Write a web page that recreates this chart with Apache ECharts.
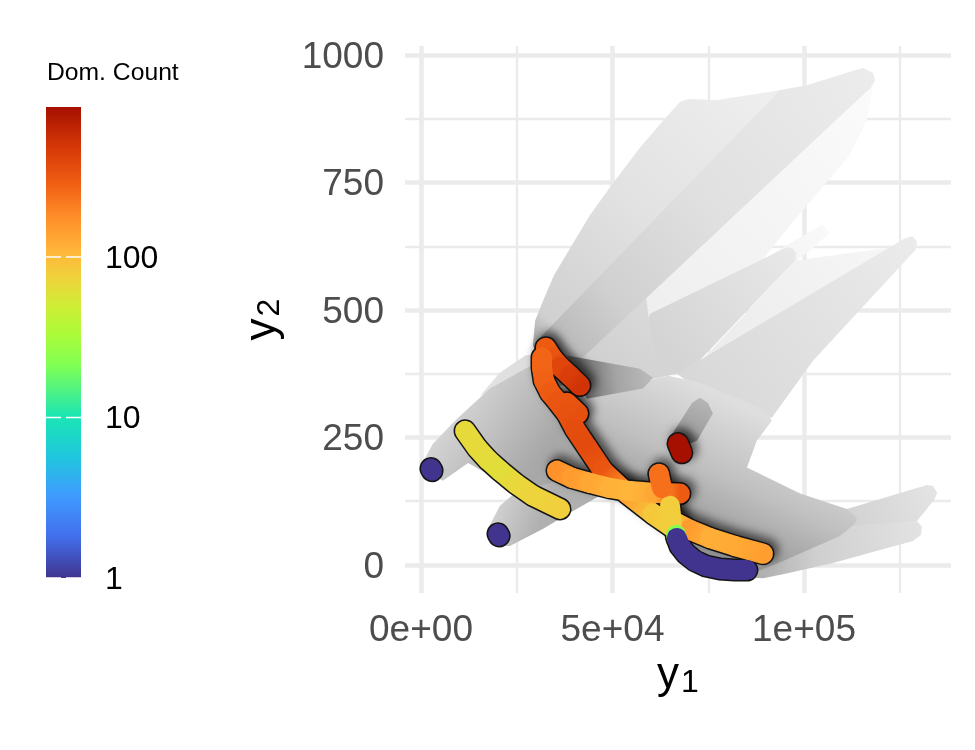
<!DOCTYPE html>
<html>
<head>
<meta charset="utf-8">
<style>html,body{margin:0;background:#fff}#chart{width:975px;height:750px}</style>
<script src="https://cdn.jsdelivr.net/npm/echarts@6/dist/echarts.min.js"></script>
</head>
<body>
<div id="chart"></div>
<script>
// axes
const y1Min = -4178, y1Max = 138380, y1Step = 50000
const y2Min = -55, y2Max = 1018, y2Step = 250
const y1TickLabels = { 0: '0e+00', 50000: '5e+04', 100000: '1e+05' }
const countMax = 860
const countTicks = [1, 10, 100]

// grey shapes, [y1, y2]
const brightFan = [[58700,534],[118000,941],[116400,872],[112000,804],[96300,666],[91100,617],[72800,440],[60000,420]]
const brightRay = [[91100,607],[104700,668],[106800,652],[101600,617],[96300,588]]
const brightWedge = [[97700,597],[123200,623],[126900,637],[79900,391],[70200,377]]
const fanTop = [[29200,430],[29800,479],[31900,519],[34700,568],[38100,611],[44100,686],[50100,749],[57200,819],[63700,876],[67600,908],[69700,914],[77300,912],[93700,931],[100800,941],[115400,975],[118000,965],[118500,951],[117500,937],[58700,534],[59800,460],[61800,400],[64500,371],[52000,352],[36300,352]]
const fanBand = [[93700,931],[100800,941],[115400,975],[118000,965],[118500,951],[117500,937],[42000,405],[34200,411],[31100,446]]
const fanMid = [[59800,493],[95600,623],[97000,621],[98000,611],[97700,597],[70200,381],[64500,371],[56000,400]]
const fanRight = [[66800,375],[126400,641],[128300,645],[129500,635],[129200,619],[102400,401],[91600,289],[72800,342]]
const fanLow1 = [[111200,110],[132100,157],[133700,155],[134800,141],[134000,128],[129500,86],[109400,57]]
const fanLow2 = [[129500,86],[130800,75],[130500,59],[128500,47],[117200,24],[107600,4],[94500,-18],[89300,-26],[84600,-24],[83300,-12],[94500,18],[112000,77]]
const blob = [[64500,371],[72800,358],[90300,303],[91600,283],[87700,244],[85100,191],[99000,140],[111200,110],[113800,92],[113300,81],[109400,57],[94500,8],[84600,-22],[72800,-2],[66000,60],[60600,100],[53800,140],[47500,185],[43300,232],[38100,297],[36300,322]]
const fanEdge = [[15400,332],[20600,377],[27200,411],[32400,417],[33700,381],[27200,371]]
const fanLeft = [[-300,191],[3100,238],[9400,287],[18000,346],[27200,385],[31600,401],[32100,362],[33700,338],[38100,297],[43300,232],[47500,185],[53800,140],[36300,126],[20600,165],[12300,200],[5700,165]]
const fanBlue = [[17500,71],[20600,116],[25100,145],[36300,165],[46700,136],[39700,106],[31900,71],[23200,37],[20100,37]]
const ribbonA = [[38100,411],[57200,385],[60600,367],[58000,346],[43300,326]]
const ribbonB = [[65000,250],[70800,318],[72800,328],[74900,318],[76200,297],[72100,244],[68900,234]]

// coloured paths, [y1, y2, dominated count]
const pathYellow = [[11500,263,66],[14600,230,66],[17500,206,64],[20600,185,62],[24800,159,68],[29200,136,72],[36300,110,78]]
const pathUpper = [[32600,426,300],[34200,407,330],[36300,389,400],[38900,371,450],[41500,352,520]]
const pathLong = [[31600,407,270],[31600,387,270],[32100,362,280],[33700,338,300],[35500,322,320],[38100,297,340],[40200,267,360],[43300,232,370],[47500,185,320],[53800,140,150],[60600,100,85],[65800,73,72]]
const pathBump = [[38100,318,330],[41000,297,350]]
const pathCross = [[35500,185,170],[39400,171,150],[44100,161,130],[49300,151,115],[54500,145,110],[61100,141,130],[67600,140,300]]
const pathStub = [[62100,179,240],[62900,151,240]]
const pathUp = [[65000,116,80],[65500,81,80]]
const pathLower = [[65800,86,95],[70200,69,150],[75400,53,120],[82000,37,125],[89300,22,145]]
const pathFringe = [[66600,59,22],[66800,53,22]]
const pathBlue = [[66800,53,1],[67600,37,1],[69200,22,1],[71500,8,1],[74400,-2,1],[78100,-8,1],[82000,-10,1],[85100,-10,1]]
const dotLeft = [[2600,189,1],[2900,185,1]]
const dotMid = [[20100,61,1],[20400,57,1]]
const dotRed = [[67100,238,860],[68100,220,860]]

const paths = [pathYellow, dotLeft, dotMid, pathUpper, pathBump, pathLong, pathCross, pathStub, pathLower, pathUp, pathFringe, pathBlue, dotRed]
// these sit mostly on white and throw no dark halo
const quietPaths = [dotLeft, dotMid, pathYellow, pathBlue, pathFringe]

// colour bar stops, position on the log scale / colour
const barStops = [[0,'#40348f'],[0.09,'#4270ee'],[0.175,'#3f9bff'],[0.26,'#1fc8dc'],[0.342,'#1be5b5'],[0.45,'#7fff55'],[0.517,'#abfb38'],[0.576,'#cdee35'],[0.636,'#efd33c'],[0.695,'#ffb53a'],[0.77,'#ff8c28'],[0.836,'#f05f14'],[0.91,'#d83a08'],[1,'#a51000']]

// grey layers, back to front: shape, gradient start and end [y1,y2], grey stops
const layers = [
  [brightFan, [58700,534], [118000,941], [[0,'#efefef'],[1,'#fbfbfb']]],
  [brightRay, [91100,607], [106800,652], [[0,'#f4f4f4'],[1,'#f9f9f9']]],
  [brightWedge, [78100,401], [126900,637], [[0,'#ececec'],[1,'#f7f7f7']]],
  [fanMid, [64000,420], [97000,610], [[0,'#d4d4d4'],[1,'#e8e8e8']]],
  [fanRight, [72800,342], [128500,640], [[0,'#d8d8d8'],[1,'#ebebeb']]],
  [fanTop, [32000,420], [90000,920], [[0,'#aaaaaa'],[0.08,'#d0d0d0'],[0.5,'#e2e2e2'],[1,'#eeeeee']]],
  [fanBand, [33000,420], [118000,960], [[0,'#808080'],[0.05,'#bbbbbb'],[0.2,'#d0d0d0'],[0.5,'#e0e0e0'],[1,'#ececec']]],
  [fanLow1, [109400,80], [134500,150], [[0,'#d0d0d0'],[1,'#e4e4e4']]],
  [fanLow2, [85000,-10], [130000,65], [[0,'#a8a8a8'],[0.4,'#cfcfcf'],[1,'#e2e2e2']]],
  [blob, [68000,60], [84000,310], [[0,'#959595'],[0.5,'#c0c0c0'],[1,'#dedede']]],
  [fanEdge, [15400,332], [33700,381], [[0,'#e2e2e2'],[1,'#dcdcdc']]],
  [fanLeft, [30000,200], [5000,330], [[0,'#a8a8a8'],[0.6,'#c8c8c8'],[1,'#dddddd']]],
  [fanBlue, [32000,100], [20000,130], [[0,'#b0b0b0'],[1,'#d2d2d2']]],
  [ribbonA, [42000,355], [60000,370], [[0,'#6a6a6a'],[0.5,'#a4a4a4'],[1,'#bbbbbb']]],
  [ribbonB, [68000,235], [73500,320], [[0,'#5a5a5a'],[0.4,'#a0a0a0'],[1,'#b4b4b4']]]
]

function mix(a, b, t) {
  const pa = parseInt(a.slice(1), 16), pb = parseInt(b.slice(1), 16)
  const c = [16, 8, 0].map(function (s) {
    const va = (pa >> s) & 255, vb = (pb >> s) & 255
    return Math.round(va + (vb - va) * t)
  })
  return 'rgb(' + c.join(',') + ')'
}

// colour of a count on the same scale as the bar
function countColor(count) {
  const p = Math.log10(count) / Math.log10(countMax)
  for (let i = 1; i < barStops.length; i++) {
    if (p <= barStops[i][0]) {
      const t = (p - barStops[i - 1][0]) / (barStops[i][0] - barStops[i - 1][0])
      return mix(barStops[i - 1][1], barStops[i][1], t)
    }
  }
  return barStops[barStops.length - 1][1]
}

function renderLayer(params, api) {
  const l = layers[params.dataIndex]
  const a = api.coord(l[1]), b = api.coord(l[2])
  const stops = l[3].map(function (s) { return { offset: s[0], color: s[1] } })
  return {
    type: 'polygon',
    shape: { points: l[0].map(function (p) { return api.coord(p) }) },
    style: { fill: new echarts.graphic.LinearGradient(a[0], a[1], b[0], b[1], stops, true) }
  }
}

function renderOutline(params, api) {
  const path = paths[params.dataIndex]
  const style = { fill: null, stroke: '#141414', lineWidth: 23, lineCap: 'round', lineJoin: 'round' }
  if (quietPaths.indexOf(path) < 0) {
    style.shadowBlur = 10
    style.shadowOffsetX = 4
    style.shadowOffsetY = -4
    style.shadowColor = 'rgba(0,0,0,0.6)'
  }
  return {
    type: 'polyline',
    shape: { points: path.map(function (p) { return api.coord(p) }) },
    style: style
  }
}

function renderPath(params, api) {
  const path = paths[params.dataIndex]
  const children = []
  for (let i = 1; i < path.length; i++) {
    const a = api.coord(path[i - 1]), b = api.coord(path[i])
    children.push({
      type: 'line',
      shape: { x1: a[0], y1: a[1], x2: b[0], y2: b[1] },
      style: {
        lineWidth: 20,
        lineCap: 'round',
        stroke: new echarts.graphic.LinearGradient(a[0], a[1], b[0], b[1], [
          { offset: 0, color: countColor(path[i - 1][2]) },
          { offset: 1, color: countColor(path[i][2]) }
        ], true)
      }
    })
  }
  return { type: 'group', children: children }
}

function renderBar(params, api) {
  const top = api.coord([0, countMax]), bottom = api.coord([1, 1])
  const stops = barStops.map(function (s) { return { offset: s[0], color: s[1] } })
  const children = [{
    type: 'rect',
    shape: { x: top[0], y: top[1], width: bottom[0] - top[0], height: bottom[1] - top[1] },
    style: { fill: new echarts.graphic.LinearGradient(0, bottom[1], 0, top[1], stops, true) }
  }]
  countTicks.forEach(function (c) {
    const y = api.coord([0, c])[1]
    children.push({ type: 'line', shape: { x1: top[0], y1: y, x2: top[0] + 15, y2: y }, style: { stroke: '#fff', lineWidth: 1.5 } })
    children.push({ type: 'line', shape: { x1: bottom[0] - 15, y1: y, x2: bottom[0], y2: y }, style: { stroke: '#fff', lineWidth: 1.5 } })
  })
  return { type: 'group', children: children }
}

function seq(n) { return Array.from({ length: n }, function (_, i) { return i }) }

const labelFont = 'Liberation Sans'
const nameRich = {
  y: { fontFamily: labelFont, fontSize: 44, color: '#000', padding: [0, 0, 14, 0] },
  s: { fontFamily: labelFont, fontSize: 32, color: '#000', padding: [0, 0, 0, 2] }
}
const gridLine = { show: true, showMinLine: false, showMaxLine: false, lineStyle: { color: '#ebebeb', width: 4.5 } }
const minorLine = { show: true, lineStyle: { color: '#ebebeb', width: 2.3 } }

const chart = echarts.init(document.getElementById('chart'), null, { renderer: 'canvas' })
chart.setOption({
  animation: false,
  backgroundColor: '#fff',
  title: {
    text: 'Dom. Count', left: 47, top: 61, padding: 0,
    textStyle: { fontFamily: labelFont, fontSize: 24.7, fontWeight: 'normal', color: '#000' }
  },
  grid: [
    { left: 405, right: 24, top: 46, bottom: 157 },
    { left: 46, width: 35, top: 107, height: 471 }
  ],
  xAxis: [{
    type: 'value', min: y1Min, max: y1Max, minInterval: y1Step, maxInterval: y1Step, splitNumber: 3,
    axisLine: { show: false }, axisTick: { show: false },
    axisLabel: {
      showMinLabel: false, showMaxLabel: false, margin: 19, fontFamily: labelFont, fontSize: 37, color: '#4d4d4d',
      formatter: function (v) { return y1TickLabels[v] || '' }
    },
    splitLine: gridLine,
    minorTick: { show: false, splitNumber: 2 }, minorSplitLine: minorLine,
    name: '{y|y}{s|1}', nameLocation: 'middle', nameGap: 58, nameTextStyle: { rich: nameRich }
  }, {
    gridIndex: 1, type: 'value', min: 0, max: 1, show: false
  }],
  yAxis: [{
    type: 'value', min: y2Min, max: y2Max, minInterval: y2Step, maxInterval: y2Step, splitNumber: 4,
    axisLine: { show: false }, axisTick: { show: false },
    axisLabel: {
      showMinLabel: false, showMaxLabel: false, margin: 21,
      formatter: function (v) { return '{t|' + v + '}' },
      rich: { t: { fontFamily: labelFont, fontSize: 37, color: '#4d4d4d', padding: [5, 0, 0, 0] } }
    },
    splitLine: gridLine,
    minorTick: { show: false, splitNumber: 2 }, minorSplitLine: minorLine,
    name: '{y|y}{s|2}', nameLocation: 'middle', nameRotate: 90, nameGap: 106, nameTextStyle: { rich: nameRich }
  }, {
    gridIndex: 1, type: 'log', logBase: 10, min: 1, max: countMax, position: 'right',
    axisLine: { show: false }, axisTick: { show: false }, splitLine: { show: false },
    axisLabel: {
      showMaxLabel: false, margin: 24,
      formatter: function (v) { return '{t|' + v + '}' },
      rich: { t: { fontFamily: labelFont, fontSize: 32, color: '#000', padding: [4, 0, 0, 0] } }
    }
  }],
  series: [
    { type: 'custom', coordinateSystem: 'cartesian2d', renderItem: renderLayer, data: seq(layers.length), silent: true, z: 2 },
    { type: 'custom', coordinateSystem: 'cartesian2d', renderItem: renderOutline, data: seq(paths.length), silent: true, z: 3 },
    { type: 'custom', coordinateSystem: 'cartesian2d', renderItem: renderPath, data: seq(paths.length), silent: true, z: 4 },
    { type: 'custom', coordinateSystem: 'cartesian2d', xAxisIndex: 1, yAxisIndex: 1, renderItem: renderBar, data: [0], silent: true, z: 2 }
  ]
})
</script>
</body>
</html>
